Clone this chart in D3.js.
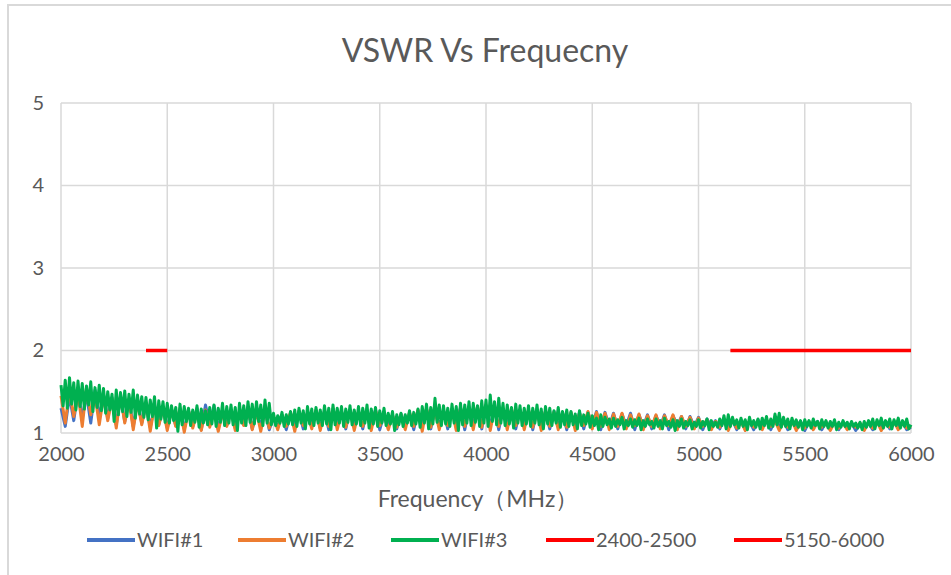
<!DOCTYPE html>
<html>
<head>
<meta charset="utf-8">
<script src="https://cdn.jsdelivr.net/npm/d3@7"></script>
<style>
  body { margin: 0; background: #fff; }
  svg { display: block; font-family: Lato, "Open Sans", sans-serif; }
</style>
</head>
<body>
<div id="chart"></div>
<script>
// sweep 2000-6000 MHz; WIFI#1/#2 read every 20 MHz, WIFI#3 every 10 MHz
const freqStart = 2000, freqStop = 6000;

const wifi1 = [
  1.30,1.08,1.45,1.15,1.50,1.18,1.47,1.12,1.52,1.20,
  1.46,1.18,1.43,1.10,1.44,1.14,1.41,1.08,1.39,1.12,
  1.35,1.07,1.32,1.10,1.30,1.06,1.29,1.09,1.28,1.05,
  1.27,1.08,1.30,1.04,1.34,1.10,1.33,1.05,1.27,1.09,
  1.26,1.06,1.25,1.10,1.29,1.05,1.27,1.08,1.27,1.04,
  1.19,1.07,1.22,1.04,1.24,1.09,1.26,1.05,1.25,1.08,
  1.27,1.06,1.27,1.04,1.29,1.08,1.26,1.05,1.28,1.09,
  1.25,1.05,1.27,1.09,1.28,1.04,1.23,1.08,1.22,1.05,
  1.23,1.08,1.24,1.04,1.27,1.09,1.29,1.05,1.28,1.08,
  1.27,1.05,1.29,1.09,1.31,1.04,1.30,1.08,1.31,1.05,
  1.33,1.08,1.31,1.04,1.29,1.09,1.28,1.05,1.28,1.08,
  1.27,1.04,1.27,1.09,1.26,1.05,1.26,1.08,1.25,1.04,
  1.24,1.08,1.25,1.05,1.25,1.09,1.26,1.04,1.25,1.08,
  1.24,1.05,1.23,1.09,1.24,1.04,1.22,1.08,1.22,1.05,
  1.21,1.08,1.22,1.04,1.21,1.09,1.20,1.05,1.20,1.08,
  1.19,1.04,1.17,1.08,1.15,1.05,1.16,1.09,1.15,1.04,
  1.15,1.08,1.14,1.04,1.16,1.07,1.15,1.04,1.16,1.08,
  1.15,1.04,1.14,1.07,1.14,1.03,1.13,1.08,1.14,1.04,
  1.13,1.07,1.12,1.04,1.13,1.08,1.12,1.03,1.11,1.06,
  1.12,1.04,1.13,1.07,1.14,1.05,1.13,1.08,1.13,1.04,
  1.07
];

const wifi2 = [
  1.45,1.12,1.52,1.20,1.48,1.08,1.55,1.22,1.46,1.10,
  1.44,1.15,1.42,1.06,1.45,1.12,1.40,1.04,1.38,1.10,
  1.36,1.02,1.33,1.09,1.30,1.03,1.28,1.08,1.30,1.01,
  1.27,1.06,1.25,1.03,1.28,1.07,1.26,1.02,1.24,1.08,
  1.27,1.03,1.25,1.09,1.30,1.04,1.26,1.02,1.28,1.06,
  1.20,1.04,1.22,1.08,1.25,1.02,1.27,1.09,1.24,1.05,
  1.28,1.03,1.26,1.08,1.30,1.04,1.25,1.07,1.27,1.03,
  1.26,1.08,1.24,1.03,1.27,1.09,1.22,1.04,1.21,1.07,
  1.22,1.04,1.25,1.08,1.28,1.02,1.30,1.07,1.27,1.04,
  1.26,1.09,1.28,1.03,1.30,1.08,1.29,1.04,1.32,1.07,
  1.34,1.03,1.30,1.08,1.28,1.04,1.29,1.09,1.27,1.04,
  1.28,1.07,1.26,1.03,1.27,1.08,1.25,1.04,1.24,1.07,
  1.25,1.03,1.24,1.09,1.26,1.05,1.25,1.08,1.24,1.04,
  1.23,1.08,1.24,1.05,1.22,1.09,1.23,1.04,1.21,1.08,
  1.22,1.05,1.21,1.09,1.22,1.04,1.20,1.08,1.19,1.05,
  1.18,1.08,1.16,1.04,1.14,1.07,1.15,1.03,1.16,1.06,
  1.14,1.03,1.15,1.07,1.13,1.04,1.16,1.08,1.15,1.03,
  1.14,1.07,1.15,1.03,1.13,1.06,1.14,1.04,1.13,1.07,
  1.12,1.03,1.13,1.06,1.12,1.04,1.11,1.07,1.12,1.03,
  1.13,1.06,1.14,1.03,1.13,1.07,1.14,1.04,1.12,1.06,
  1.08
];

const wifi3 = [
  1.58,1.33,1.64,1.30,1.67,1.35,1.61,1.28,1.63,1.32,
  1.60,1.29,1.57,1.34,1.62,1.26,1.55,1.31,1.58,1.27,
  1.54,1.24,1.50,1.28,1.47,1.14,1.52,1.22,1.49,1.26,
  1.51,1.20,1.47,1.25,1.52,1.18,1.46,1.23,1.44,1.19,
  1.43,1.16,1.40,1.20,1.44,1.06,1.39,1.17,1.38,1.13,
  1.36,1.12,1.33,1.15,1.31,1.02,1.35,1.10,1.32,1.14,
  1.30,1.09,1.28,1.13,1.33,1.07,1.29,1.12,1.27,1.10,
  1.31,1.11,1.34,1.08,1.30,1.13,1.36,1.09,1.32,1.12,
  1.34,1.10,1.31,1.03,1.36,1.12,1.33,1.09,1.38,1.13,
  1.35,1.11,1.38,1.14,1.34,1.09,1.40,1.12,1.36,1.10,
  1.24,1.09,1.21,1.12,1.25,1.08,1.22,1.11,1.26,1.10,
  1.28,1.08,1.30,1.12,1.27,1.05,1.32,1.11,1.29,1.09,
  1.31,1.12,1.28,1.09,1.33,1.11,1.30,1.04,1.34,1.10,
  1.30,1.12,1.32,1.08,1.29,1.13,1.33,1.10,1.28,1.11,
  1.32,1.09,1.30,1.12,1.34,1.06,1.29,1.11,1.31,1.08,
  1.27,1.12,1.30,1.09,1.24,1.11,1.26,1.03,1.22,1.10,
  1.24,1.08,1.22,1.12,1.27,1.09,1.25,1.11,1.29,1.07,
  1.32,1.12,1.35,1.05,1.31,1.11,1.42,1.13,1.34,1.09,
  1.33,1.11,1.30,1.08,1.35,1.12,1.32,1.03,1.36,1.10,
  1.34,1.12,1.38,1.09,1.36,1.13,1.33,1.08,1.39,1.12,
  1.40,1.08,1.46,1.14,1.38,1.10,1.42,1.12,1.36,1.09,
  1.34,1.11,1.31,1.06,1.35,1.12,1.33,1.09,1.30,1.11,
  1.33,1.08,1.30,1.12,1.34,1.10,1.29,1.05,1.32,1.11,
  1.30,1.09,1.27,1.12,1.31,1.07,1.26,1.10,1.28,1.08,
  1.26,1.10,1.23,1.05,1.27,1.09,1.22,1.11,1.24,1.07,
  1.21,1.09,1.18,1.04,1.22,1.08,1.19,1.10,1.17,1.06,
  1.18,1.08,1.16,1.10,1.19,1.05,1.15,1.09,1.17,1.07,
  1.16,1.09,1.18,1.04,1.15,1.08,1.17,1.10,1.14,1.06,
  1.17,1.08,1.15,1.05,1.18,1.09,1.14,1.07,1.16,1.03,
  1.15,1.08,1.17,1.06,1.14,1.09,1.16,1.05,1.13,1.08,
  1.16,1.06,1.14,1.09,1.17,1.04,1.15,1.08,1.13,1.07,
  1.17,1.09,1.21,1.05,1.22,1.08,1.19,1.10,1.16,1.06,
  1.18,1.08,1.16,1.04,1.19,1.09,1.15,1.07,1.17,1.05,
  1.18,1.09,1.20,1.06,1.17,1.08,1.23,1.10,1.24,1.07,
  1.19,1.08,1.17,1.05,1.18,1.09,1.16,1.07,1.15,1.04,
  1.16,1.08,1.15,1.06,1.17,1.09,1.14,1.05,1.16,1.08,
  1.15,1.06,1.14,1.08,1.16,1.04,1.13,1.07,1.15,1.08,
  1.13,1.05,1.14,1.08,1.12,1.06,1.13,1.04,1.14,1.07,
  1.15,1.08,1.17,1.05,1.16,1.09,1.18,1.06,1.15,1.08,
  1.17,1.05,1.16,1.09,1.18,1.06,1.15,1.08,1.17,1.05,
  1.10
];

// spec limit bands
const limitBands = [[2400, 2500], [5150, 6000]];
const limitValue = 2;

const seriesNames = ["WIFI#1", "WIFI#2", "WIFI#3", "2400-2500", "5150-6000"];
const seriesColors = ["#4472c4", "#ed7d31", "#00b050", "#ff0000", "#ff0000"];
const xTicks = [2000, 2500, 3000, 3500, 4000, 4500, 5000, 5500, 6000];
const yTicks = [1, 2, 3, 4, 5];

const width = 951, height = 575;
const plot = { left: 61, right: 911, top: 103, bottom: 433 };
const textColor = "#595959", gridColor = "#d9d9d9";

let xScale = d3.scaleLinear().domain([freqStart, freqStop]).range([plot.left, plot.right]);
let yScale = d3.scaleLinear().domain([1, 5]).range([plot.bottom, plot.top]);

let svg = d3.select("#chart").append("svg")
  .attr("width", width)
  .attr("height", height);

// chart frame
svg.append("rect")
  .attr("x", 8).attr("y", 5)
  .attr("width", width + 20).attr("height", height + 20)
  .attr("fill", "#fff")
  .attr("stroke", gridColor)
  .attr("stroke-width", 2);

// title
svg.append("text")
  .attr("x", 485).attr("y", 62)
  .attr("text-anchor", "middle")
  .attr("fill", textColor)
  .style("font-size", "32px")
  .text("VSWR Vs Frequecny");

// grid
svg.selectAll(".hgrid").data(yTicks).enter()
  .append("line").attr("class", "hgrid")
  .attr("x1", plot.left).attr("x2", plot.right)
  .attr("y1", d => yScale(d)).attr("y2", d => yScale(d))
  .attr("stroke", gridColor).attr("stroke-width", 1.5);

svg.selectAll(".vgrid").data(xTicks).enter()
  .append("line").attr("class", "vgrid")
  .attr("x1", d => xScale(d)).attr("x2", d => xScale(d))
  .attr("y1", plot.top).attr("y2", plot.bottom)
  .attr("stroke", gridColor).attr("stroke-width", 1.5);

// axes (labels only, Excel style)
let xAxis = svg.append("g")
  .attr("transform", "translate(0," + plot.bottom + ")")
  .call(d3.axisBottom(xScale).tickValues(xTicks).tickSize(0).tickPadding(14).tickFormat(d3.format("d")));
let yAxis = svg.append("g")
  .attr("transform", "translate(" + plot.left + ",0)")
  .call(d3.axisLeft(yScale).tickValues(yTicks).tickSize(0).tickPadding(17).tickFormat(d3.format("d")));
[xAxis, yAxis].forEach(ax => {
  ax.select(".domain").remove();
  ax.selectAll("text").attr("fill", textColor).style("font-size", "20px").style("font-family", "Lato, sans-serif");
});

svg.append("text")
  .attr("x", 478).attr("y", 507)
  .attr("text-anchor", "middle")
  .attr("fill", textColor)
  .style("font-size", "23px")
  .text("Frequency（MHz）");

// measured traces
function trace(values) {
  const step = (freqStop - freqStart) / (values.length - 1);
  return d3.line()
    .x((d, i) => xScale(freqStart + i * step))
    .y(d => yScale(d))(values);
}

[wifi1, wifi2, wifi3].forEach((values, k) => {
  svg.append("path")
    .attr("d", trace(values))
    .attr("fill", "none")
    .attr("stroke", seriesColors[k])
    .attr("stroke-width", 3)
    .attr("stroke-linejoin", "round");
});

// limit lines
limitBands.forEach((band, k) => {
  svg.append("line")
    .attr("x1", xScale(band[0])).attr("x2", xScale(band[1]))
    .attr("y1", yScale(limitValue)).attr("y2", yScale(limitValue))
    .attr("stroke", seriesColors[3 + k])
    .attr("stroke-width", 3.5);
});

// legend
const legendX = [87, 238, 391, 546, 734];
let legend = svg.selectAll(".legend").data(seriesNames).enter()
  .append("g").attr("class", "legend")
  .attr("transform", (d, i) => "translate(" + legendX[i] + ",540)");
legend.append("line")
  .attr("x1", 0).attr("x2", 48)
  .attr("stroke", (d, i) => seriesColors[i])
  .attr("stroke-width", 4);
legend.append("text")
  .attr("x", 50).attr("y", 7)
  .attr("fill", textColor)
  .style("font-size", "20px")
  .text(d => d);
</script>
</body>
</html>
